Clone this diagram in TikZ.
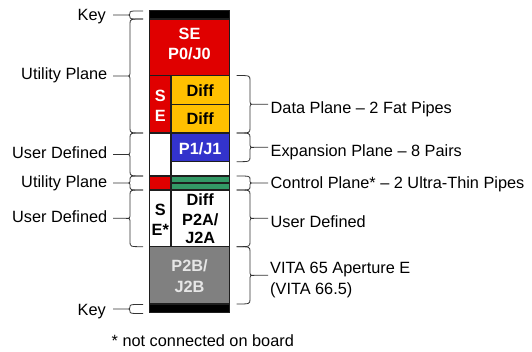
\documentclass[tikz,border=0pt]{standalone}
\usepackage{fontspec}
\setmainfont{Liberation Sans}
\definecolor{cred}{RGB}{224,0,0}
\definecolor{cyel}{RGB}{255,192,0}
\definecolor{cblue}{RGB}{51,51,204}
\definecolor{cgreen}{RGB}{51,153,102}
\definecolor{cgray}{RGB}{128,128,128}
\definecolor{cline}{RGB}{30,30,30}
\definecolor{cptext}{RGB}{230,230,230}
\newcommand\mybraceL[2]{%
  \pgfmathsetmacro\ym{(#1+#2)/2}%
  \pgfmathsetmacro\rr{min(5,(#2-#1)/4)}%
  \draw[br] (143,#1) .. controls (130,#1) .. (130,#1+\rr) -- (130,\ym-\rr)
    .. controls (130,\ym) .. (126,\ym) -- (113,\ym)
    (126,\ym) .. controls (130,\ym) .. (130,\ym+\rr) -- (130,#2-\rr)
    .. controls (130,#2) .. (143,#2);}
\newcommand\mybraceR[2]{%
  \pgfmathsetmacro\ym{(#1+#2)/2}%
  \pgfmathsetmacro\rr{min(5,(#2-#1)/4)}%
  \draw[br] (236.5,#1) .. controls (250,#1) .. (250,#1+\rr) -- (250,\ym-\rr)
    .. controls (250,\ym) .. (254,\ym) -- (268,\ym)
    (254,\ym) .. controls (250,\ym) .. (250,\ym+\rr) -- (250,#2-\rr)
    .. controls (250,#2) .. (236.5,#2);}
\begin{document}
\begin{tikzpicture}[x=1pt,y=-1pt,
  box/.style={draw=cline,line width=1.1pt,anchor=north west,inner sep=0pt,outer sep=0pt},
  br/.style={draw=black!80,line width=0.8pt},
  lab/.style={inner sep=0pt,font=\fontsize{16.3}{19}\selectfont},
  llab/.style={lab,anchor=base east},
  rlab/.style={lab,anchor=base west},
  btxt/.style={inner sep=0pt,anchor=base,font=\bfseries\fontsize{16.3}{19}\selectfont}]
\useasboundingbox (0,0) rectangle (532,352);
% boxes
\node[box,fill=black,minimum width=80pt,minimum height=8.5pt] (keytop) at (149.5,10.5) {};
\node[box,fill=cred,minimum width=80pt,minimum height=56.5pt] (se0) at (149.5,19) {};
\node[box,fill=cred,minimum width=21.5pt,minimum height=57.5pt] (seL) at (149.5,75.5) {};
\node[box,fill=cyel,minimum width=58.5pt,minimum height=28.75pt] (diff1) at (171,75.5) {};
\node[box,fill=cyel,minimum width=58.5pt,minimum height=28.75pt] (diff2) at (171,104.25) {};
\node[box,fill=white,minimum width=21.5pt,minimum height=43pt] (wL) at (149.5,133) {};
\node[box,fill=cblue,minimum width=58.5pt,minimum height=28.7pt] (p1) at (171,133) {};
\node[box,fill=white,minimum width=58.5pt,minimum height=14.3pt] (wR) at (171,161.7) {};
\node[box,fill=cred,minimum width=21.5pt,minimum height=14pt] (rs) at (149.5,176) {};
\node[box,fill=cgreen,minimum width=58.5pt,minimum height=7pt] (g1) at (171,176) {};
\node[box,fill=cgreen,minimum width=58.5pt,minimum height=7pt] (g2) at (171,183) {};
\node[box,fill=white,minimum width=21.5pt,minimum height=56.7pt] (sestar) at (149.5,190) {};
\node[box,fill=white,minimum width=58.5pt,minimum height=56.7pt] (p2a) at (171,190) {};
\node[box,fill=cgray,minimum width=80pt,minimum height=57.3pt] (p2b) at (149.5,246.7) {};
\node[box,fill=black,minimum width=80pt,minimum height=8.5pt] (keybot) at (149.5,304) {};
% box texts
\node[btxt,text=white] (t1) at (189.5,39.5) {SE};
\node[btxt,text=white] (t2) at (189.5,60) {P0/J0};
\node[btxt,text=white] (t3) at (160.25,101.7) {S};
\node[btxt,text=white] (t4) at (160.25,122) {E};
\node[btxt] (t5) at (200.25,96.7) {Diff};
\node[btxt] (t6) at (200.25,125) {Diff};
\node[btxt,text=white] (t7) at (200.25,154.5) {P1/J1};
\node[btxt] (t8) at (160.25,215.5) {S};
\node[btxt] (t9) at (160.25,236) {E*};
\node[btxt] (t10) at (200.25,206) {Diff};
\node[btxt] (t11) at (200.25,225.5) {P2A/};
\node[btxt] (t12) at (200.25,244) {J2A};
\node[btxt,text=cptext] (t13) at (189.5,272) {P2B/};
\node[btxt,text=cptext] (t14) at (189.5,292) {J2B};
% left braces and labels
\mybraceL{11}{19}
\mybraceL{19}{133}
\mybraceL{133}{176}
\mybraceL{176}{190}
\mybraceL{190}{246.7}
\mybraceL{304.5}{313.5}
\node[llab] (lk1) at (106,21) {Key};
\node[llab] (lu1) at (107.5,80) {Utility Plane};
\node[llab] (ld1) at (107.5,158.5) {User Defined};
\node[llab] (lu2) at (107.5,187.5) {Utility Plane};
\node[llab] (ld2) at (107.5,222.5) {User Defined};
\node[llab] (lk2) at (106,315.5) {Key};
% right braces and labels
\mybraceR{75.5}{133}
\mybraceR{133}{161.7}
\mybraceR{176}{190}
\mybraceR{190}{246.7}
\mybraceR{246.7}{304}
\node[rlab] (rd) at (270.5,113.5) {Data Plane – 2 Fat Pipes};
\node[rlab] (re) at (270.5,156.5) {Expansion Plane – 8 Pairs};
\node[rlab] (rc) at (270.5,188.5) {Control Plane* – 2 Ultra-Thin Pipes};
\node[rlab] (ru) at (270.5,228) {User Defined};
\node[rlab] (rv1) at (270,273.5) {VITA 65 Aperture E};
\node[rlab] (rv2) at (270,294.5) {(VITA 66.5)};
\node[rlab] (foot) at (111.5,346.5) {* not connected on board};
\end{tikzpicture}
\end{document}
